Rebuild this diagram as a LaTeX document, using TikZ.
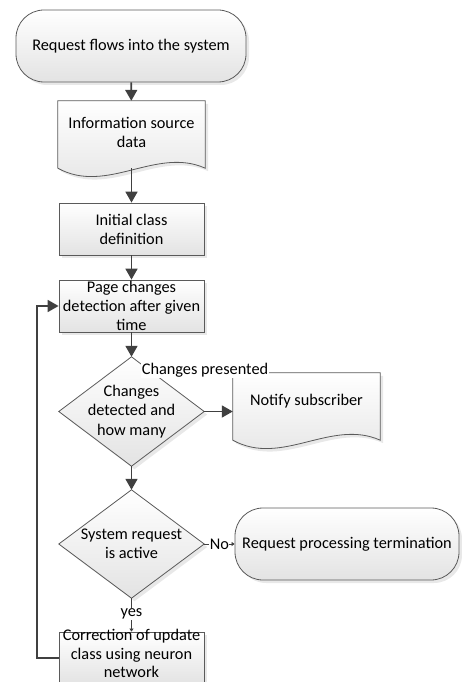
\documentclass[tikz,border=0pt]{standalone}
\usepackage{fontspec}
\setmainfont{Carlito}
\usetikzlibrary{arrows.meta,shadows,calc,backgrounds}
\definecolor{linec}{HTML}{404040}
\definecolor{edgec}{HTML}{5A5A5A}
\tikzset{
  x=1pt,y=1pt,
  every node/.style={font=\fontsize{16.3}{19.2}\selectfont, text=black},
  shp/.style={draw=edgec, line width=0.8pt, top color=white, bottom color=gray!22,
    drop shadow={shadow xshift=3pt,shadow yshift=-3pt,fill=gray!35}},
  box/.style={shp, rectangle, minimum width=145, minimum height=52, inner sep=0pt, align=center},
  term/.style={shp, rectangle, rounded corners=28pt, inner sep=0pt, align=center},
  holder/.style={rectangle, draw=none, inner sep=0pt, align=center},
  flow/.style={draw=linec, line width=1.8pt, -{Triangle[width=12pt,length=11pt]}},
  thinflow/.style={draw=linec, line width=1pt, -{Triangle[width=4pt,length=3pt]}},
  lbl/.style={fill=white, inner sep=0.5pt},
}
\newcommand\docpath[1]{%
  \path[shp] (#1.north west) -- (#1.north east) -- (#1.south east)
    .. controls ($(#1.south east)+(-49,22)$) and ($(#1.south west)+(49,-27)$) .. (#1.south west) -- cycle;}
\newcommand\diapath[1]{%
  \path[shp] (#1.north) -- (#1.east) -- (#1.south) -- (#1.west) -- cycle;}
\begin{document}
\begin{tikzpicture}
\useasboundingbox (0,0) rectangle (461,-682);

\node[term, minimum width=230, minimum height=72] (start) at (131,-46) {Request flows into the system};
\node[holder, minimum width=147, minimum height=67] (info) at (131.5,-134.5) {};
\node[holder] (infotext) at (131.5,-132.5) {Information source\\data};
\node[box] (init) at (131.5,-229) {Initial class\\definition};
\node[box] (page) at (131.5,-306) {Page changes\\detection after given\\time};
\node[holder, minimum width=145, minimum height=109] (d1) at (131.5,-411.5) {Changes\\detected and\\how many};
\node[holder, minimum width=147, minimum height=67] (notify) at (306.5,-406.5) {};
\node[holder] (notifytext) at (306.5,-401) {Notify subscriber};
\node[holder, minimum width=145, minimum height=108] (d2) at (131.5,-544) {System request\\is active};
\node[term, minimum width=224, minimum height=72] (term2) at (347,-544) {Request processing termination};
\node[box] (corr) at (131.5,-658) {};
\node[holder, font=\fontsize{16.3}{18.6}\selectfont] (corrtext) at (131.5,-653.5) {Correction of update\\class using neuron\\network};

\begin{scope}[on background layer]
  \docpath{info}
  \docpath{notify}
  \diapath{d1}
  \diapath{d2}
\end{scope}

\draw[flow] (start) -- (info);
\draw[flow] (info.south) -- (init.north);
\draw[flow] (init) -- (page);
\draw[flow] (page) -- (d1);
\draw[flow] (d1.east) -- (d1.east -| notify.west);
\draw[flow] (d1) -- (d2);
\draw[thinflow] (d2.east) -- node[lbl] (nolbl) {No} (term2.west);
\draw[thinflow] (d2.south) -- node[lbl, pos=0.47] (yeslbl) {yes} (corr.north);
\draw[flow] (corr.west) -- ++(-22,0) |- (page.west);
\node[lbl] (cp) at (205,-370) {Changes presented};
\end{tikzpicture}
\end{document}
